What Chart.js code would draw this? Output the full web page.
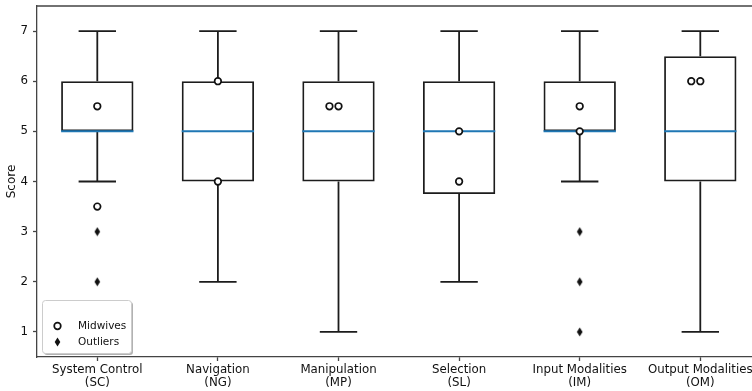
<!DOCTYPE html>
<html><head><meta charset="utf-8">
<script src="https://cdn.jsdelivr.net/npm/chart.js@4/dist/chart.umd.min.js"></script>
<style>
html,body{margin:0;padding:0;overflow:hidden;background:#fff;width:752px;height:391px}
#wrap{position:absolute;left:0;top:0;width:770px;height:391px}
</style></head>
<body><div id="wrap"><canvas id="c" width="770" height="391"></canvas></div>
<script>
// ---- data ----
const categories = [
  ['System Control', '(SC)'],
  ['Navigation', '(NG)'],
  ['Manipulation', '(MP)'],
  ['Selection', '(SL)'],
  ['Input Modalities', '(IM)'],
  ['Output Modalities', '(OM)']
];
const whiskerLow  = [4, 2, 1, 2, 4, 1];
const q1          = [5, 4, 4, 3.75, 5, 4];
const median      = [5, 5, 5, 5, 5, 5];
const q3          = [6, 6, 6, 6, 6, 6.5];
const whiskerHigh = [7, 7, 7, 7, 7, 7];
const outlierCat  = [1, 1, 5, 5, 5];
const outlierVal  = [3, 2, 3, 2, 1];
const midwifeCat    = [1, 1, 2, 2, 3, 3, 4, 4, 5, 5, 6, 6];
const midwifeOffset = [0, 0, 0, 0, -0.075, 0, 0, 0, 0, 0, -0.075, 0];
const midwifeVal    = [5.5, 3.5, 6, 4, 5.5, 5.5, 5, 4, 5.5, 5, 6, 6];
const yTicks = [1, 2, 3, 4, 5, 6, 7];
const legendLabels = ['Midwives', 'Outliers'];

// ---- helpers ----
const FONT = 'DejaVu Sans';
const INK = '#1c1c1c';
const CAP = 0.155, HALFBOX = 0.3;

const diamond = document.createElement('canvas');
diamond.width = 7; diamond.height = 10;
(function(){
  const g = diamond.getContext('2d');
  g.fillStyle = '#111';
  g.beginPath(); g.moveTo(3.5, 0.5); g.lineTo(6.3, 5); g.lineTo(3.5, 9.5); g.lineTo(0.7, 5); g.closePath(); g.fill();
})();

const boxData = categories.map((c, i) => ({x: i + 1, y: [q1[i], q3[i]]}));
const whiskerData = [];
categories.forEach((c, i) => {
  const x = i + 1;
  whiskerData.push({x, y: q3[i]}, {x, y: whiskerHigh[i]}, {x, y: null});
  whiskerData.push({x, y: q1[i]}, {x, y: whiskerLow[i]}, {x, y: null});
  whiskerData.push({x: x - CAP, y: whiskerHigh[i]}, {x: x + CAP, y: whiskerHigh[i]}, {x, y: null});
  whiskerData.push({x: x - CAP, y: whiskerLow[i]}, {x: x + CAP, y: whiskerLow[i]}, {x, y: null});
});
const medianData = [];
categories.forEach((c, i) => {
  const x = i + 1;
  medianData.push({x: x - HALFBOX, y: median[i]}, {x: x + HALFBOX, y: median[i]}, {x, y: null});
});
const outlierData = outlierCat.map((c, i) => ({x: c, y: outlierVal[i]}));
const midwifeData = midwifeCat.map((c, i) => ({x: c + midwifeOffset[i], y: midwifeVal[i]}));

const framePlugin = {
  id: 'frame',
  afterDraw(chart) {
    const {ctx, chartArea: a} = chart;
    ctx.save();
    ctx.strokeStyle = '#444'; ctx.lineWidth = 1.3;
    ctx.beginPath(); ctx.moveTo(a.left, a.top); ctx.lineTo(a.right, a.top); ctx.lineTo(a.right, a.bottom); ctx.stroke();
    // legend
    const lx = 42, ly = 300, lw = 89, lh = 53;
    ctx.fillStyle = 'rgba(0,0,0,0.3)';
    ctx.beginPath(); ctx.roundRect(lx + 2, ly + 2, lw, lh, 3); ctx.fill();
    ctx.fillStyle = '#fff'; ctx.strokeStyle = '#ccc'; ctx.lineWidth = 1;
    ctx.beginPath(); ctx.roundRect(lx + 0.5, ly + 0.5, lw, lh, 3); ctx.fill(); ctx.stroke();
    // markers
    ctx.fillStyle = '#fff'; ctx.strokeStyle = '#111'; ctx.lineWidth = 1.7;
    ctx.beginPath(); ctx.arc(57.5, 326, 3.3, 0, Math.PI * 2); ctx.fill(); ctx.stroke();
    ctx.drawImage(diamond, 57.5 - 3.5, 342 - 5);
    ctx.fillStyle = '#111';
    ctx.font = '10.5px "' + FONT + '"';
    ctx.textBaseline = 'middle'; ctx.textAlign = 'left';
    ctx.fillText(legendLabels[0], 78, 326);
    ctx.fillText(legendLabels[1], 78, 342);
    ctx.restore();
  }
};

new Chart(document.getElementById('c'), {
  type: 'bar',
  data: {
    datasets: [
      {type: 'scatter', label: legendLabels[0], data: midwifeData, order: 0,
       pointStyle: 'circle', pointRadius: 3.3, pointBorderWidth: 1.7,
       pointBackgroundColor: '#fff', pointBorderColor: '#111'},
      {type: 'scatter', label: legendLabels[1], data: outlierData, order: 1,
       pointStyle: diamond, pointRadius: 5},
      {type: 'line', label: 'median', data: medianData, order: 2,
       borderColor: '#1f77b4', borderWidth: 2, pointRadius: 0, spanGaps: false, fill: false, tension: 0},
      {type: 'line', label: 'whiskers', data: whiskerData, order: 3,
       borderColor: INK, borderWidth: 1.8, pointRadius: 0, spanGaps: false, fill: false, tension: 0},
      {type: 'bar', label: 'boxes', data: boxData, order: 4,
       backgroundColor: 'rgba(255,255,255,0)', borderColor: INK, borderWidth: 1.8,
       borderSkipped: false, barPercentage: 0.6, categoryPercentage: 1}
    ]
  },
  options: {
    responsive: false,
    devicePixelRatio: 1,
    animation: false,
    layout: {padding: {left: 0, top: 5, right: 9.4, bottom: 0}},
    plugins: {legend: {display: false}, tooltip: {enabled: false}},
    scales: {
      x: {
        type: 'linear', min: 0.5, max: 6.5, offset: false,
        afterBuildTicks: s => { s.ticks = categories.map((c, i) => ({value: i + 1})); },
        afterFit: s => { s.height = 34; s.paddingLeft = 0; s.paddingRight = 0; },
        ticks: {
          callback: (v) => categories[Math.round(v) - 1] || '',
          font: {family: FONT, size: 11.8, lineHeight: 1.15},
          color: '#111', padding: 2, maxRotation: 0, autoSkip: false
        },
        grid: {display: true, offset: false, drawOnChartArea: false, drawTicks: true, tickLength: 4, color: '#444', tickWidth: 1.3},
        border: {display: true, color: '#444', width: 1.3}
      },
      y: {
        type: 'linear', min: 0.5, max: 7.5,
        afterBuildTicks: s => { s.ticks = yTicks.map(v => ({value: v})); },
        afterFit: s => { s.width = 37; s.paddingTop = 0; s.paddingBottom = 0; },
        ticks: {font: {family: FONT, size: 11.8}, color: '#111', padding: 5},
        grid: {display: true, offset: false, drawOnChartArea: false, drawTicks: true, tickLength: 4, color: '#444', tickWidth: 1.3},
        border: {display: true, color: '#444', width: 1.3},
        title: {display: true, text: 'Score', font: {family: FONT, size: 12}, color: '#111', padding: {top: 5, bottom: 0}}
      }
    }
  },
  plugins: [framePlugin]
});
</script>
</body></html>
